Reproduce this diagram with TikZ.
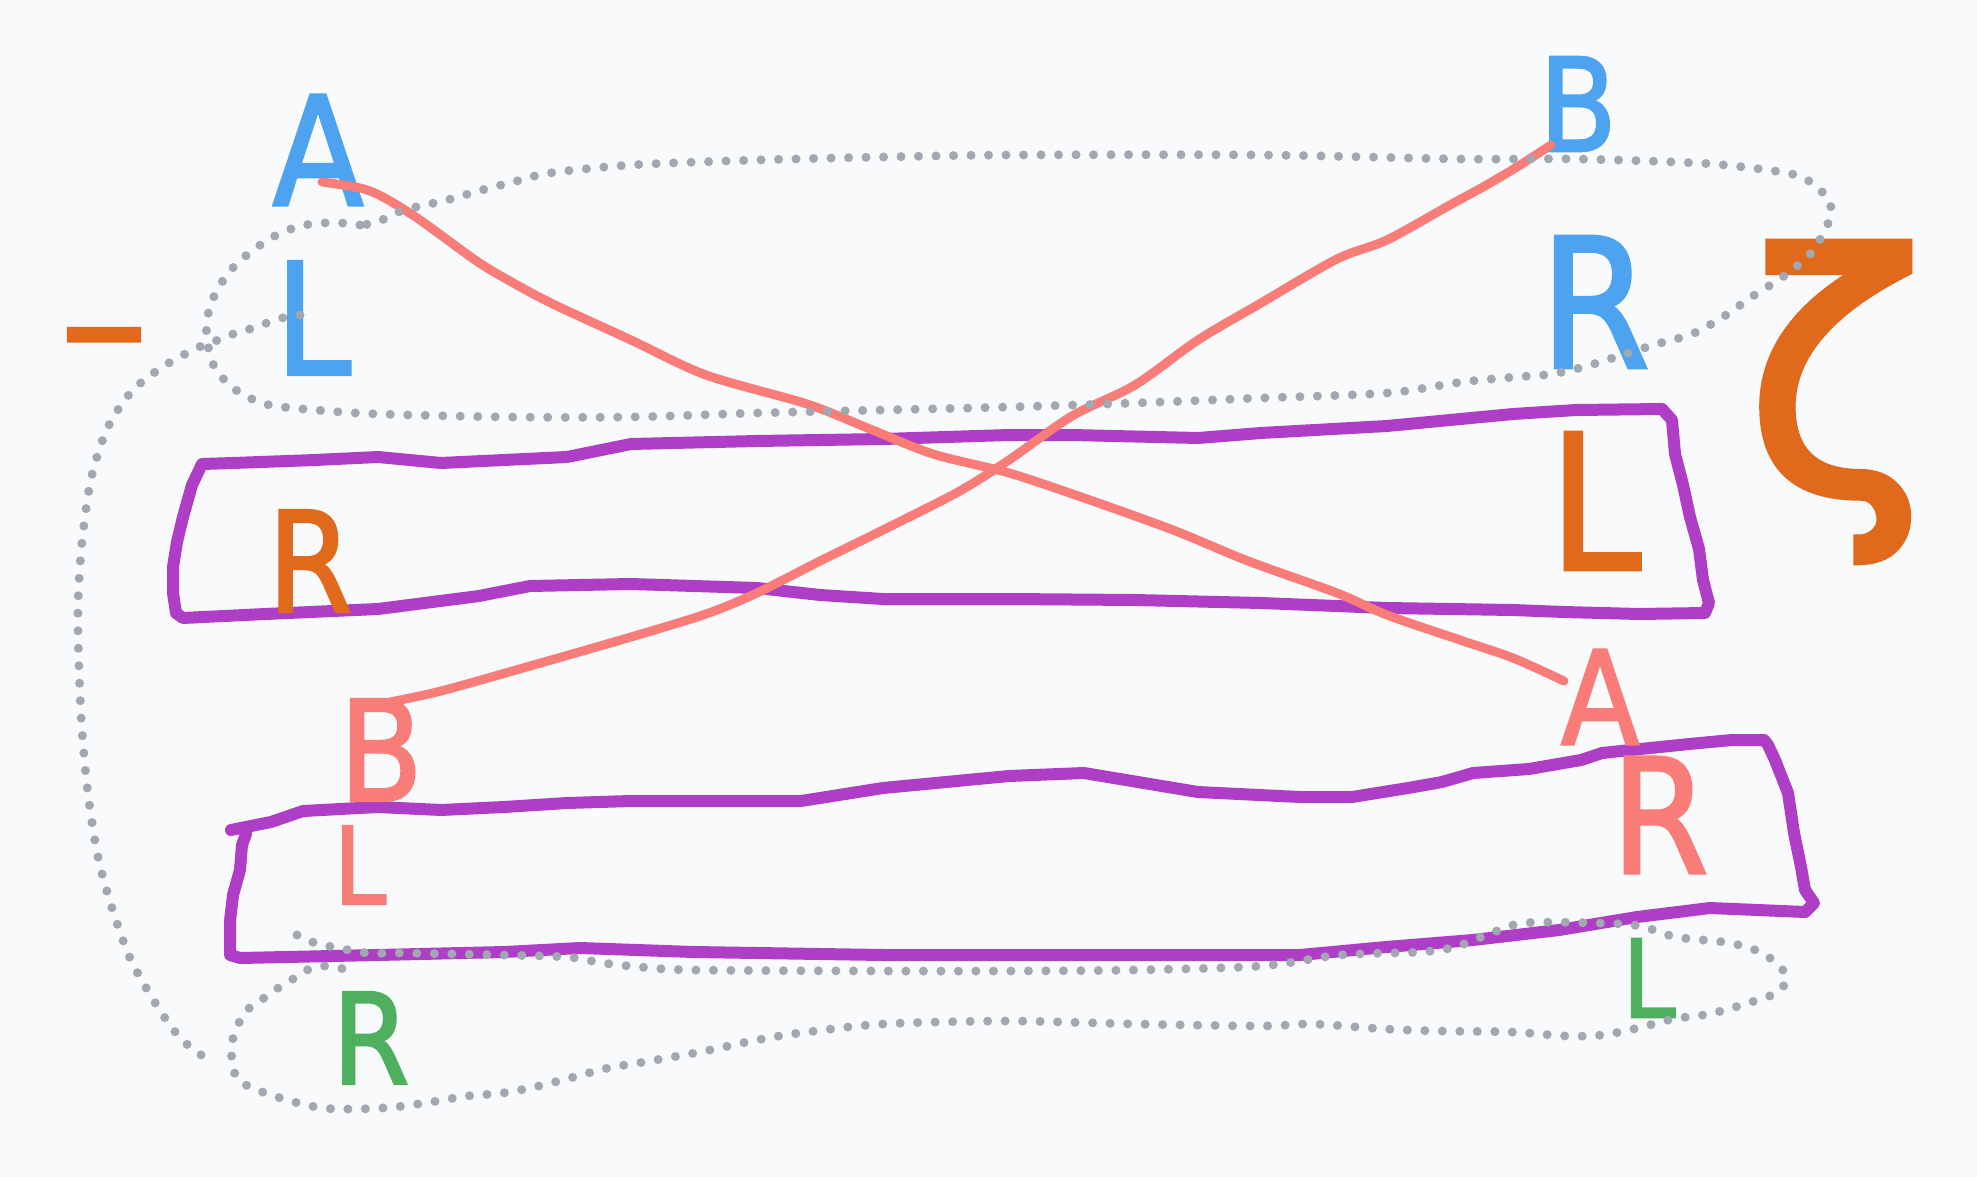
\documentclass[tikz,border=0pt]{standalone}
\usepackage{graphicx}
\usepackage{fontspec}
\setmainfont{DejaVu Sans}[FakeBold=2]
\definecolor{bgc}{HTML}{F8FAFC}
\definecolor{cblue}{HTML}{4DA3F0}
\definecolor{corange}{HTML}{E0691B}
\definecolor{cpurple}{HTML}{AF3EC6}
\definecolor{cpink}{HTML}{F87C78}
\definecolor{cgreen}{HTML}{4EAF5E}
\definecolor{cgray}{HTML}{A1A8B2}
\newcommand{\hwlet}[1]{\scalebox{0.88}[1]{#1}}
\begin{document}
\begin{tikzpicture}[x=1pt,y=-1pt,
  lbl/.style={inner sep=0pt, outer sep=0pt, font=\fontsize{#1pt}{#1pt}\selectfont},
  boxline/.style={draw=cpurple, line width=12pt, line join=round, line cap=round},
  wire/.style={draw=cpink, line width=9pt, line cap=round, line join=round},
  dotloop/.style={draw=cgray, line width=9pt, line cap=round, dash pattern=on 0pt off 17.5pt},
]
\fill[bgc] (0,0) rectangle (1977,1177);
\useasboundingbox (0,0) rectangle (1977,1177);

% hand-drawn boxes
\draw[boxline] plot[sharp cycle] coordinates {
 (202,464) (233,463) (315,460) (378,457) (441,463) (504,460) (567,457) (631,444)
 (757,441) (883,439) (1009,435) (1072,435) (1198,438) (1261,433) (1387,426)
 (1513,414) (1576,410) (1662,409)
 (1672,420) (1675,454) (1683,485) (1690,517) (1699,549) (1703,580) (1709,603) (1705,613)
 (1639,614) (1564,612) (1513,610) (1387,608) (1261,603) (1135,600) (1009,599)
 (883,599) (820,595) (757,588) (631,584) (530,586) (479,596) (378,609) (265,614) (183,618)
 (176,613) (173,593) (173,567) (177,542) (183,517) (192,485)};

\draw[boxline] plot[sharp plot] coordinates {
 (231,830) (271,822) (303,811) (378,807) (441,810) (504,807) (567,803) (631,801)
 (801,801) (883,788) (1009,776) (1084,773) (1198,792) (1300,797) (1352,797)
 (1408,788) (1442,782) (1473,773) (1529,769) (1581,760) (1602,753) (1689,744)
 (1732,740) (1764,740)
 (1768,745) (1775,760) (1788,793) (1794,833) (1801,867) (1805,890) (1814,903) (1805,912)
 (1710,908) (1637,917) (1559,930) (1473,940) (1386,947) (1300,955) (1261,955)
 (1009,955) (883,955) (694,952) (580,948) (504,952) (378,955) (240,958) (230,955)
 (230,921) (233,895) (240,870) (242,845) (246,834)};

% labels
\node[lbl=151, text=cblue] (bA) at (318,150) {\hwlet{A}};
\node[lbl=155, text=cblue] (bL) at (313,318) {\hwlet{L}};
\node[lbl=129, text=cblue] (bB) at (1578,104) {\hwlet{B}};
\node[lbl=180, text=cblue] (bR) at (1595,302) {\hwlet{R}};
\node[lbl=176, text=corange, anchor=base] (oDash) at (104,383) {–};
\node[lbl=139, text=corange] (oR) at (310,561) {\hwlet{R}};
\node[lbl=188, text=corange] (oL) at (1595,501) {\hwlet{L}};
\node[lbl=330, text=corange] (oZ) at (1835,402) {ζ};
\node[lbl=139, text=cpink] (pB) at (381,750) {\hwlet{B}};
\node[lbl=107, text=cpink] (pL) at (360,865) {\hwlet{L}};
\node[lbl=130, text=cpink] (pA) at (1600,697) {\hwlet{A}};
\node[lbl=159, text=cpink] (pR) at (1660,815) {\hwlet{R}};
\node[lbl=126, text=cgreen] (gR) at (371,1038) {\hwlet{R}};
\node[lbl=108, text=cgreen] (gL) at (1649,978) {\hwlet{L}};

% wires
\coordinate (w1s) at (322,182);
\coordinate (w1e) at (1564,681);
\coordinate (w2s) at (385,703);
\coordinate (w2e) at (1551,145);
\draw[wire] plot[smooth, tension=0.5] coordinates {
 (w1s) (360,188) (383,197) (420,220) (478,262) (517,285) (555,305) (631,340)
 (706,375) (807,404) (870,429) (933,454) (1009,473) (1084,498) (1173,530)
 (1248,561) (1337,593) (1387,615) (1463,641) (1513,658) (w1e)};
\draw[wire] plot[smooth, tension=0.5] coordinates {
 (w2s) (441,691) (530,666) (631,637) (706,614) (757,593) (820,561) (883,530)
 (958,492) (1009,460) (1072,416) (1135,385) (1198,340) (1261,303) (1337,259)
 (1387,240) (1450,205) (1483,187) (1517,167) (w2e)};

% dotted loops
\draw[dotloop] plot[smooth cycle, tension=0.5] coordinates {
 (378,222) (360,225) (342,223) (323,223) (305,225) (288,230) (271,238) (256,248)
 (242,259) (229,272) (219,287) (211,303) (207,321) (207,340) (214,366) (233,388)
 (265,404) (315,410) (378,414) (505,417) (631,417) (757,413) (883,410) (1009,407)
 (1135,403) (1261,398) (1387,393) (1462,382) (1516,377) (1552,374) (1587,366)
 (1622,355) (1657,344) (1692,334) (1723,317) (1753,296) (1784,276) (1812,252)
 (1829,221) (1830,202) (1819,189) (1804,178) (1787,173) (1752,168) (1697,163)
 (1576,159) (1460,159) (1261,155) (1009,155) (883,157) (757,160) (631,165)
 (550,173) (517,181) (482,190) (447,200) (412,208) (393,214)};

\draw[dotloop] plot[smooth, tension=0.5] coordinates {
 (300,315) (282,318) (264,324) (247,330) (230,335) (213,342) (197,348) (164,366)
 (132,391) (107,429) (91,479) (82,542) (78,605) (79,668) (82,731) (88,794)
 (98,857) (112,908) (130,958) (151,996) (172,1028) (190,1047) (209,1060)};

\draw[dotloop] plot[smooth, tension=0.5] coordinates {
 (297,935) (315,943) (333,947) (368,953) (404,953) (500,955) (567,957) (603,963)
 (640,967) (693,970) (883,971) (1009,971) (1135,970) (1261,966) (1340,955)
 (1420,952) (1455,947) (1489,934) (1524,923) (1597,923) (1640,926) (1676,937)
 (1730,943) (1764,954) (1786,975) (1778,992) (1745,1004) (1709,1014) (1673,1019)
 (1638,1028) (1602,1035) (1566,1036) (1512,1032) (1439,1031) (1385,1029)
 (1312,1024) (1261,1026) (1135,1024) (1009,1021) (883,1024) (800,1033) (757,1040)
 (700,1052) (644,1062) (608,1068) (574,1077) (539,1086) (503,1093) (467,1096)
 (431,1102) (395,1107) (358,1109) (322,1108) (287,1100) (252,1088) (237,1078)
 (232,1062) (232,1043) (237,1027) (246,1011) (260,1001) (275,990) (290,981)
 (305,971) (321,966) (339,968) (357,972)};
\end{tikzpicture}
\end{document}
